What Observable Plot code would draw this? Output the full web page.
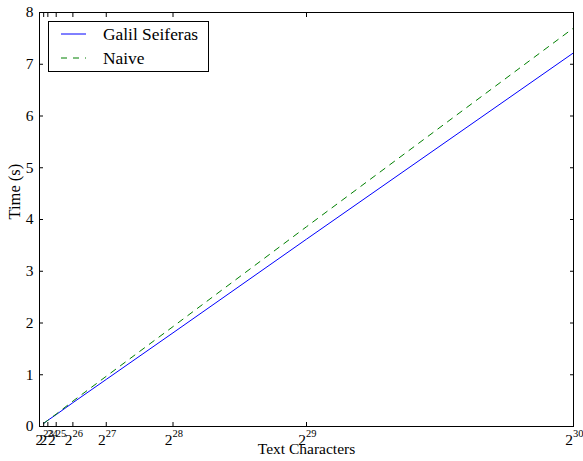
<!DOCTYPE html>
<html>
<head>
<meta charset="utf-8">
<script src="https://cdn.jsdelivr.net/npm/d3@7"></script>
<script src="https://cdn.jsdelivr.net/npm/@observablehq/plot@0.6"></script>
<style>
  html, body { margin: 0; padding: 0; background: white; }
</style>
</head>
<body>
<div id="chart"></div>
<script>
// Data (x = 2^exponent text characters)
const exponents = [23, 24, 25, 26, 27, 28, 29, 30];
const galilSeiferas = [0.06, 0.12, 0.23, 0.46, 0.91, 1.81, 3.62, 7.22];
const naive = [0.06, 0.12, 0.24, 0.49, 0.97, 1.93, 3.86, 7.70];
const xTickExponents = [23, 24, 25, 26, 27, 28, 29, 30];
const yTicks = [0, 1, 2, 3, 4, 5, 6, 7, 8];
const seriesNames = ["Galil Seiferas", "Naive"];
const seriesColors = ["#0000ff", "#008000"];

const data = exponents.map((e, i) => ({x: 2 ** e, galil: galilSeiferas[i], naive: naive[i]}));
const font = "Liberation Serif";

const chart = Plot.plot({
  width: 583,
  height: 461,
  marginLeft: 39,
  marginRight: 10,
  marginTop: 12,
  marginBottom: 35,
  x: {domain: [0, 2 ** 30]},
  y: {domain: [0, 8]},
  style: {fontFamily: font, fontSize: "15px", background: "white", color: "black"},
  marks: [
    Plot.line(data, {x: "x", y: "galil", stroke: seriesColors[0], strokeWidth: 1}),
    Plot.line(data, {x: "x", y: "naive", stroke: seriesColors[1], strokeWidth: 1, strokeDasharray: "6,6"}),
    Plot.axisX({ticks: xTickExponents.map(e => 2 ** e), anchor: "bottom", tickSize: -4, tickFormat: () => "", label: null}),
    Plot.axisX({ticks: xTickExponents.map(e => 2 ** e), anchor: "top", tickSize: -4, tickFormat: () => "", label: null}),
    Plot.axisY({ticks: yTicks, anchor: "left", tickSize: -4, tickFormat: () => "", label: null}),
    Plot.axisY({ticks: yTicks, anchor: "right", tickSize: -4, tickFormat: () => "", label: null}),
    Plot.frame({stroke: "black", strokeWidth: 1}),
    Plot.text(yTicks, {x: 0, y: d => d, text: d => String(d), textAnchor: "end", dx: -6, fontSize: 15.5}),
    Plot.text(xTickExponents, {x: d => 2 ** d, y: 0, text: () => "2", textAnchor: "end", lineAnchor: "top", dx: -0.5, dy: 7, fontSize: 15.5}),
    Plot.text(xTickExponents, {x: d => 2 ** d, y: 0, text: d => String(d), textAnchor: "start", lineAnchor: "top", dx: -0.5, dy: 3, fontSize: 10.5}),
    Plot.text(["Text Characters"], {frameAnchor: "bottom", text: d => d, dy: 27, fontSize: 15.5}),
    Plot.text(["Time (s)"], {frameAnchor: "left", text: d => d, rotate: -90, dx: -25, fontSize: 16.5})
  ]
});

document.getElementById("chart").appendChild(chart);

// Legend (matplotlib style, upper left)
const svg = d3.select(chart);
const lg = svg.append("g");
lg.append("rect").attr("x", 48.5).attr("y", 21.5).attr("width", 160).attr("height", 50)
  .attr("fill", "white").attr("stroke", "black").attr("stroke-width", 1);
seriesNames.forEach((name, i) => {
  const y = 34 + i * 24;
  lg.append("line").attr("x1", 61).attr("x2", 86).attr("y1", y).attr("y2", y)
    .attr("stroke", seriesColors[i]).attr("stroke-width", 1)
    .attr("stroke-dasharray", i === 1 ? "6,6" : null);
  lg.append("text").attr("x", 103).attr("y", y + 6)
    .attr("fill", "black").attr("font-family", font).attr("font-size", 17.4)
    .attr("text-anchor", "start").text(name);
});
</script>
</body>
</html>
